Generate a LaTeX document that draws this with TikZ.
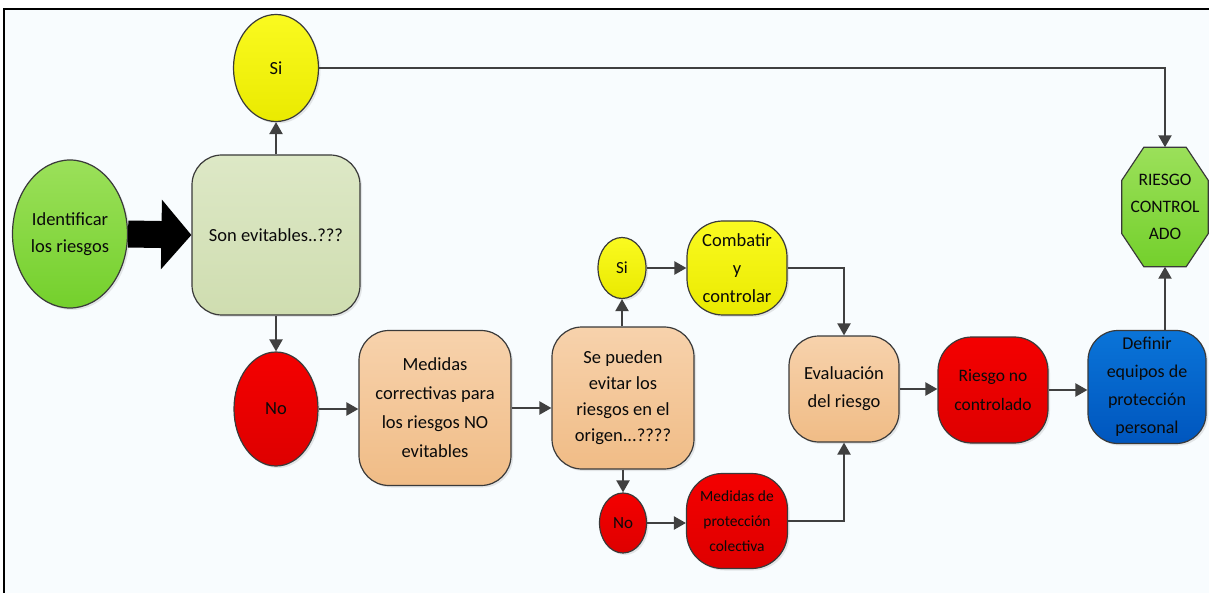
\documentclass[tikz,border=0pt]{standalone}
\usepackage{fontspec}
\setmainfont{Carlito}
\usetikzlibrary{arrows.meta,shapes.geometric,shadows}
\definecolor{bgc}{HTML}{F8FCFE}
\definecolor{bordc}{HTML}{3A3A3A}
\definecolor{linec}{HTML}{404040}
\definecolor{txtc}{HTML}{0A0A0A}
\definecolor{greenT}{HTML}{9BE05A}
\definecolor{greenB}{HTML}{74D02C}
\definecolor{oliveT}{HTML}{DDE8C6}
\definecolor{oliveB}{HTML}{CFDDB0}
\definecolor{yellowT}{HTML}{FAFA20}
\definecolor{yellowB}{HTML}{EAEA00}
\definecolor{redT}{HTML}{F40000}
\definecolor{redB}{HTML}{DE0000}
\definecolor{peachT}{HTML}{F7D2AC}
\definecolor{peachB}{HTML}{F0BC86}
\definecolor{blueT}{HTML}{0A74D8}
\definecolor{blueB}{HTML}{0056BE}
\pgfdeclarelayer{bg}
\pgfsetlayers{bg,main}
\begin{document}
\begin{tikzpicture}[x=1pt,y=-1pt,
  base/.style={draw=bordc, line width=1.2pt, align=center, text=txtc, inner sep=0pt,
    font=\fontsize{18.5}{27}\selectfont,
    drop shadow={shadow xshift=2pt, shadow yshift=-2pt, opacity=0.18}},
  ell/.style={base, ellipse},
  rbox/.style={base, rectangle, rounded corners=30pt},
  fgreen/.style={top color=greenT, bottom color=greenB},
  folive/.style={top color=oliveT, bottom color=oliveB},
  fyellow/.style={top color=yellowT, bottom color=yellowB},
  fred/.style={top color=redT, bottom color=redB},
  fpeach/.style={top color=peachT, bottom color=peachB},
  fblue/.style={top color=blueT, bottom color=blueB},
  arr/.style={draw=linec, line width=2.2pt, -{Triangle[length=12pt,width=13pt]}},
  plainline/.style={draw=linec, line width=2.2pt}
]
\useasboundingbox (0,0) rectangle (1209,593);
\begin{pgfonlayer}{bg}
  \fill[white] (0,0) rectangle (1209,593);
  \fill[bgc] (4,9) rectangle (1209,593);
\end{pgfonlayer}
\draw[black, line width=2.5pt] (4,593) -- (4,9) -- (1209,9);

% nodes
\node[ell, fgreen, minimum width=115pt, minimum height=148pt] (ident) at (70,234) {Identificar\\los riesgos};
\node[rbox, folive, minimum width=168pt, minimum height=160pt] (son) at (276,235) {Son evitables..???};
\node[ell, fyellow, minimum width=85pt, minimum height=107pt] (si1) at (276,68) {Si};
\node[ell, fred, minimum width=84pt, minimum height=114pt] (no1) at (276,409) {No};
\node[rbox, fpeach, minimum width=152pt, minimum height=155pt, font=\fontsize{18.5}{29}\selectfont] (med1) at (435,408) {Medidas\\correctivas para\\los riesgos NO\\evitables};
\node[rbox, fpeach, minimum width=142pt, minimum height=142pt, font=\fontsize{18.5}{26}\selectfont] (se) at (623,398) {Se pueden\\evitar los\\riesgos en el\\origen...????};
\node[ell, fyellow, minimum width=48pt, minimum height=61pt, font=\fontsize{17}{24}\selectfont] (si2) at (622,268) {Si};
\node[ell, fred, minimum width=47pt, minimum height=60pt, font=\fontsize{17}{24}\selectfont] (no2) at (623,523) {No};
\node[rbox, fyellow, rounded corners=36pt, minimum width=100pt, minimum height=94pt, font=\fontsize{18.5}{28}\selectfont] (comb) at (737,268) {Combatir\\y\\controlar};
\node[rbox, fred, rounded corners=36pt, minimum width=101pt, minimum height=95pt, font=\fontsize{15.5}{25}\selectfont] (medcol) at (737,521) {Medidas de\\protección\\colectiva};
\node[rbox, fpeach, minimum width=110pt, minimum height=106pt, font=\fontsize{18.5}{28}\selectfont] (eval) at (844,389) {Evaluación\\del riesgo};
\node[rbox, fred, rounded corners=34pt, minimum width=110pt, minimum height=106pt, font=\fontsize{17.5}{29}\selectfont] (ries) at (993,390) {Riesgo no\\controlado};
\node[rbox, fblue, minimum width=118pt, minimum height=113pt, font=\fontsize{18}{28}\selectfont] (def) at (1147,387) {Definir\\equipos de\\protección\\personal};
\node[align=center, text=txtc, inner sep=0pt, minimum width=86pt, minimum height=119pt, font=\fontsize{17.5}{27}\selectfont] (oct) at (1165,207) {RIESGO\\CONTROL\\ADO};
\begin{pgfonlayer}{bg}
\filldraw[draw=bordc, line width=1.2pt, top color=greenT, bottom color=greenB]
  ([xshift=22pt]oct.north west) -- ([xshift=-22pt]oct.north east) --
  ([yshift=-33pt]oct.north east) -- ([yshift=33pt]oct.south east) --
  ([xshift=-22pt]oct.south east) -- ([xshift=22pt]oct.south west) --
  ([yshift=33pt]oct.south west) -- ([yshift=-33pt]oct.north west) -- cycle;
\end{pgfonlayer}

% connectors
\draw[black, line width=27pt, -{Triangle[length=30pt,width=68pt]}] (ident.east) -- (son.west);
\draw[arr] (son.north) -- (si1.south);
\draw[arr] (son.south) -- (no1.north);
\draw[arr] (si1.east) -| (oct.north);
\draw[arr] (no1.east) -- (no1.east -| med1.west);
\draw[arr] (med1.east) -- (med1.east -| se.west);
\draw[arr] (se.north -| si2.south) -- (si2.south);
\draw[arr] (se.south -| no2.north) -- (no2.north);
\draw[arr] (si2.east) -- (si2.east -| comb.west);
\draw[arr] (no2.east) -- (no2.east -| medcol.west);
\draw[arr] (comb.east) -| (eval.north);
\draw[arr] (medcol.east) -| (eval.south);
\draw[arr] (eval.east) -- (eval.east -| ries.west);
\draw[arr] (ries.east) -- (ries.east -| def.west);
\draw[arr] (oct.south |- def.north) -- (oct.south);
\end{tikzpicture}
\end{document}
